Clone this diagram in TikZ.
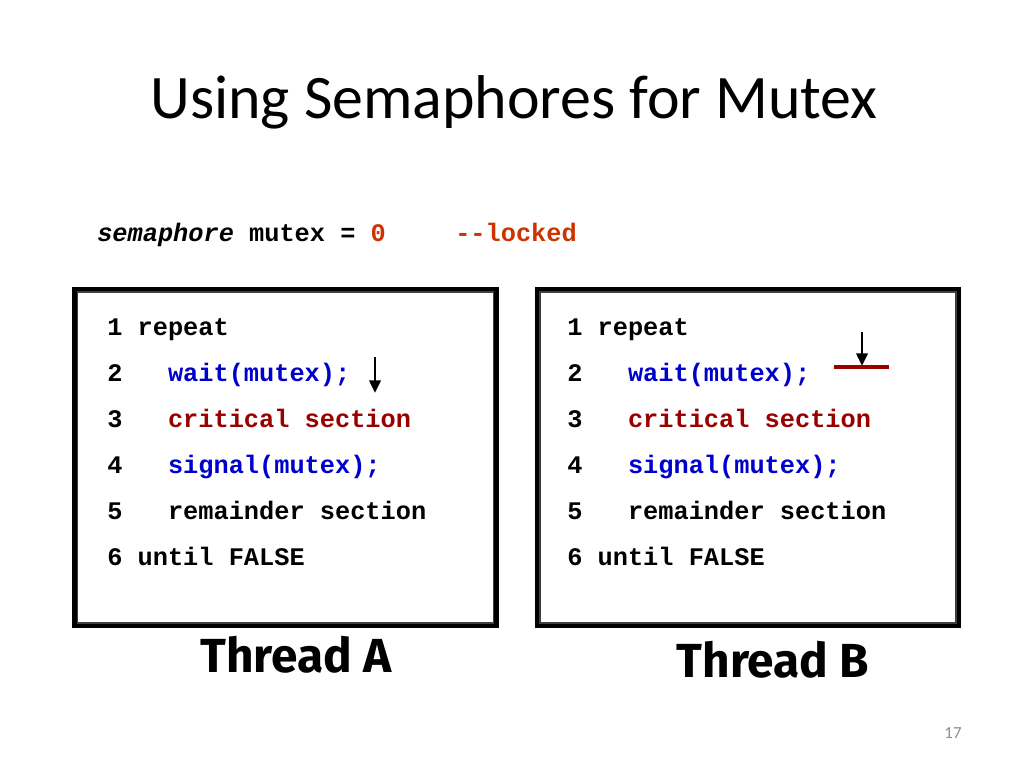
\documentclass[tikz,border=0pt]{standalone}
\usepackage{fontspec}
\setmainfont{Carlito}
\setmonofont{Liberation Mono}
\newfontfamily\threadfont{Fira Sans}
\usepackage{tikz}
\usetikzlibrary{arrows.meta, positioning, calc}
\definecolor{codeblue}{HTML}{0000CC}
\definecolor{codered}{HTML}{990000}
\definecolor{codeorange}{HTML}{CC3300}
\definecolor{pagegray}{HTML}{8C8C8C}

\begin{document}
\begin{tikzpicture}[
  x=0.025cm, y=-0.025cm,
  frame/.style={draw, line width=3pt, minimum width=10.55cm,
                minimum height=8.425cm, inner sep=0pt},
  innerframe/.style={draw=black!75, line width=1pt},
  code/.style={anchor=base west, inner sep=0pt,
               font=\ttfamily\bfseries\fontsize{18}{18}\selectfont},
  threadname/.style={font=\threadfont\bfseries\fontsize{34}{34}\selectfont},
  arr/.style={-{Triangle[length=9pt,width=8pt]}, line width=2pt}
]
\useasboundingbox (0,0) rectangle (1024,768);

\node[font=\fontsize{44}{44}\selectfont] (title) at (514,102) {Using Semaphores for Mutex};

\node[code] (decl) at (97,241) {\textit{semaphore} mutex = \textcolor{codeorange}{0}};
\node[code, text=codeorange] (note) at (455,241) {-{}-locked};

% Thread A
\node[frame] (boxA) at (285.5,457.5) {};
\draw[innerframe] ($(boxA.north west)+(5,5)$) rectangle ($(boxA.south east)+(-5,-5)$);
\node[code] (a1) at (107,335) {1 repeat};
\node[code] (a2) at (107,381) {2~~~\textcolor{codeblue}{wait(mutex);}};
\node[code] (a3) at (107,427) {3~~~\textcolor{codered}{critical section}};
\node[code] (a4) at (107,473) {4~~~\textcolor{codeblue}{signal(mutex);}};
\node[code] (a5) at (107,519) {5~~~remainder section};
\node[code] (a6) at (107,565) {6 until FALSE};
\coordinate (pA) at (375,357);
\coordinate (qA) at (375,393);
\draw[arr] (pA) -- (qA);
\node[threadname] (threadA) at (296,655) {Thread A};

% Thread B
\node[frame] (boxB) at (748,457.5) {};
\draw[innerframe] ($(boxB.north west)+(5,5)$) rectangle ($(boxB.south east)+(-5,-5)$);
\node[code] (b1) at (567,335) {1 repeat};
\node[code] (b2) at (567,381) {2~~~\textcolor{codeblue}{wait(mutex);}};
\node[code] (b3) at (567,427) {3~~~\textcolor{codered}{critical section}};
\node[code] (b4) at (567,473) {4~~~\textcolor{codeblue}{signal(mutex);}};
\node[code] (b5) at (567,519) {5~~~remainder section};
\node[code] (b6) at (567,565) {6 until FALSE};
\coordinate (pB) at (862,332);
\coordinate (qB) at (862,366);
\draw[arr] (pB) -- (qB);
\draw[codered, line width=3pt] (834,367) -- (889,367);
\node[threadname] (threadB) at (773,660) {Thread B};

\node[text=pagegray, font=\fontsize{12}{12}\selectfont] (page) at (953,733) {17};
\end{tikzpicture}
\end{document}
